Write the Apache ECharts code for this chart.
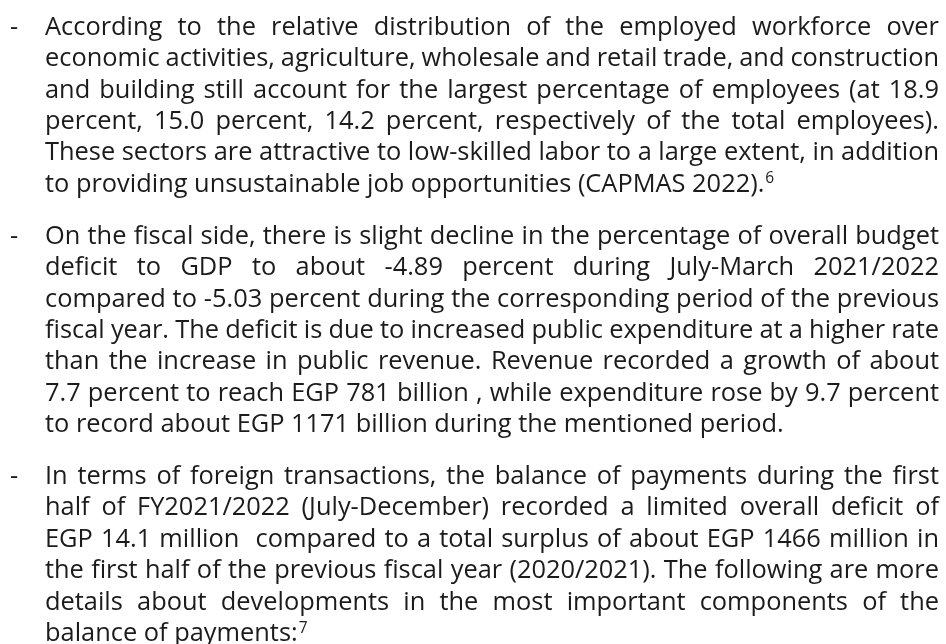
<!DOCTYPE html>
<html>
<head>
<meta charset="utf-8">
<script src="https://cdn.jsdelivr.net/npm/echarts@6/dist/echarts.min.js"></script>
<style>
html, body { margin: 0; padding: 0; background: #fff; }
#main { width: 946px; height: 644px; }
</style>
</head>
<body>
<div id="main"></div>
<script>
// text lines as broken in the reference
var para1 = [
    'According to the relative distribution of the employed workforce over',
    'economic activities, agriculture, wholesale and retail trade, and construction',
    'and building still account for the largest percentage of employees (at 18.9',
    'percent, 15.0 percent, 14.2 percent, respectively of the total employees).',
    'These sectors are attractive to low-skilled labor to a large extent, in addition',
    'to providing unsustainable job opportunities (CAPMAS 2022).'
];
var para2 = [
    'On the fiscal side, there is slight decline in the percentage of overall budget',
    'deficit to GDP to about -4.89 percent during July-March 2021/2022',
    'compared to -5.03 percent during the corresponding period of the previous',
    'fiscal year. The deficit is due to increased public expenditure at a higher rate',
    'than the increase in public revenue. Revenue recorded a growth of about',
    '7.7 percent to reach EGP 781 billion , while expenditure rose by 9.7 percent',
    'to record about EGP 1171 billion during the mentioned period.'
];
var para3 = [
    'In terms of foreign transactions, the balance of payments during the first',
    'half of FY2021/2022 (July-December) recorded a limited overall deficit of',
    'EGP 14.1 million  compared to a total surplus of about EGP 1466 million in',
    'the first half of the previous fiscal year (2020/2021). The following are more',
    'details about developments in the most important components of the',
    'balance of payments:'
];
var footnotes = ['6', '', '7'];

var paragraphs = [para1, para2, para3];

var FONT_FAMILY = '"Open Sans", "Noto Sans", sans-serif';
var FONT_SIZE = 25.4;
var SUP_SIZE = 15.5;
var COLOR = '#1b1b1b';
var LEFT = 45, RIGHT = 939, DASH_X = 10;
var FIRST_BASE = 33, LINE_H = 31.4, PARA_GAP = 20.5;

var ctx = document.createElement('canvas').getContext('2d');
function textWidth(s, size) {
    ctx.font = size + 'px ' + FONT_FAMILY;
    return ctx.measureText(s).width;
}

var myChart = echarts.init(document.getElementById('main'), null, { renderer: 'canvas' });

function wordEl(txt, x, base, size) {
    return {
        type: 'text',
        silent: true,
        style: {
            x: x,
            y: base,
            text: txt,
            fill: COLOR,
            font: size + 'px ' + FONT_FAMILY,
            textAlign: 'left',
            textVerticalAlign: 'bottom'
        }
    };
}

// zrender has no alphabetic baseline, so shift from bottom of the line box
var BASE_SHIFT = 0.28;

var elements = [];
var base = FIRST_BASE;
paragraphs.forEach(function (lines, p) {
    lines.forEach(function (line, i) {
        var y = base + FONT_SIZE * BASE_SHIFT;
        if (i === 0) {
            elements.push(wordEl('-', DASH_X, y, FONT_SIZE));
        }
        var last = i === lines.length - 1;
        if (last) {
            elements.push(wordEl(line, LEFT, y, FONT_SIZE));
            if (footnotes[p]) {
                var w = textWidth(line, FONT_SIZE);
                elements.push(wordEl(footnotes[p], LEFT + w + 1, y - FONT_SIZE * 0.4, SUP_SIZE));
            }
        } else {
            var words = line.split(' ');
            var total = 0;
            words.forEach(function (wd) { total += textWidth(wd, FONT_SIZE); });
            var gap = (RIGHT - LEFT - total) / (words.length - 1);
            var x = LEFT;
            words.forEach(function (wd) {
                if (wd) elements.push(wordEl(wd, x, y, FONT_SIZE));
                x += textWidth(wd, FONT_SIZE) + gap;
            });
        }
        base += LINE_H;
    });
    base += PARA_GAP;
});

option = {
    backgroundColor: '#ffffff',
    animation: false,
    graphic: { elements: elements }
};
myChart.setOption(option);
</script>
</body>
</html>
